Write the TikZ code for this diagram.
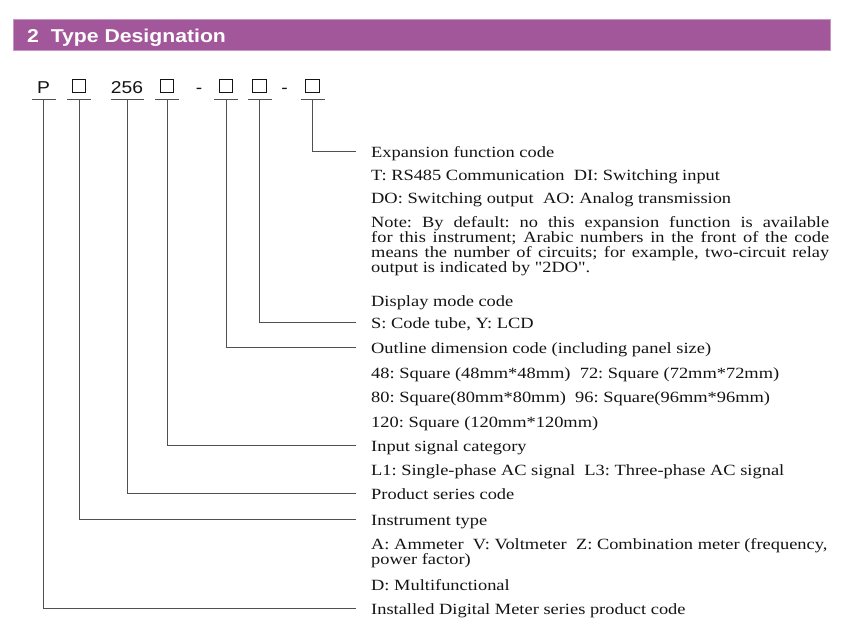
\documentclass[tikz,border=0pt]{standalone}
\usepackage{fontspec}
\setmainfont{Liberation Serif}[FakeStretch=1.18]
\newfontfamily\qfont{Liberation Serif}[FakeStretch=1.18]
\newfontfamily\codefont{Liberation Sans}[FakeStretch=1.12]
\newfontfamily\headfont{Liberation Sans}[FakeStretch=1.14]
\definecolor{headbar}{RGB}{163,87,155}
\definecolor{headedge}{RGB}{200,150,195}
\definecolor{linegray}{RGB}{80,80,80}
\definecolor{txt}{RGB}{20,20,20}
\frenchspacing
\begin{document}
\begin{tikzpicture}[x=1pt,y=-1pt,
  lbl/.style={anchor=base west,inner sep=0pt,text=txt,font=\fontsize{15.6pt}{15pt}\selectfont},
  codetxt/.style={anchor=base,inner sep=0pt,text=txt,font=\codefont\fontsize{17.2pt}{17pt}\selectfont},
  codebox/.style={anchor=south,draw=txt,line width=0.8pt,minimum width=13.5pt,minimum height=13pt,inner sep=0pt},
  conn/.style={draw=linegray,line width=0.9pt}]
\useasboundingbox (0,0) rectangle (865,641);
% header
\fill[headbar] (13,19.5) rectangle (830,50);
\draw[headedge,line width=0.4pt] (13,19.5) rectangle (830,50);
\node[anchor=base west,inner sep=0pt,text=white,font=\headfont\bfseries\fontsize{18.6pt}{18pt}\selectfont] (head) at (27,42) {2\ \ Type Designation};
% code row
\node[codetxt] (cP) at (43.5,93) {P};
\node[codebox] (cA) at (79,93) {};
\node[codetxt] (cS) at (127,93) {256};
\node[codebox] (cB) at (167,93) {};
\node[codetxt] (d1) at (199,93) {-};
\node[codebox] (cC) at (226,93) {};
\node[codebox] (cD) at (259.5,93) {};
\node[codetxt] (d2) at (284.5,93) {-};
\node[codebox] (cE) at (312.5,93) {};
\coordinate (ul) at (0,99);
% underlines
\foreach \n/\w in {cP/12,cA/12,cS/16.5,cB/12,cC/12,cD/12,cE/12}{
  \draw[conn] ([xshift=-\w pt]\n.south |- ul) -- ([xshift=\w pt]\n.south |- ul);
}
% texts
\node[lbl] (tExp) at (371,157.5) {Expansion function code};
\node[lbl] (tT) at (371,180.5) {T: RS485 Communication\ \ DI: Switching input};
\node[lbl] (tDO) at (371,203.5) {DO: Switching output\ \ AO: Analog transmission};
\node[lbl] (tN1) at (371,227.5) {\makebox[458pt][s]{Note: By default: no this expansion function is available}};
\node[lbl] (tN2) at (371,242.5) {\makebox[458pt][s]{for this instrument; Arabic numbers in the front of the code}};
\node[lbl] (tN3) at (371,257.5) {\makebox[458pt][s]{means the number of circuits; for example, two-circuit relay}};
\node[lbl] (tN4) at (371,272.5) {output is indicated by {\qfont "}2DO{\qfont "}.};
\node[lbl] (tDisp) at (371,306) {Display mode code};
\node[lbl] (tSY) at (371,328.5) {S: Code tube, Y: LCD};
\node[lbl] (tOut) at (371,353.5) {Outline dimension code (including panel size)};
\node[lbl] (t48) at (371,378) {48: Square (48mm*48mm)\ \ 72: Square (72mm*72mm)};
\node[lbl] (t80) at (371,402.5) {80: Square(80mm*80mm)\ \ 96: Square(96mm*96mm)};
\node[lbl] (t120) at (371,427) {120: Square (120mm*120mm)};
\node[lbl] (tIn) at (371,451) {Input signal category};
\node[lbl] (tL) at (371,475) {L1: Single-phase AC signal\ \ L3: Three-phase AC signal};
\node[lbl] (tProd) at (371,499) {Product series code};
\node[lbl] (tInst) at (371,525) {Instrument type};
\node[lbl] (tA1) at (371,549) {A: Ammeter\ \ V: Voltmeter\ \ Z: Combination meter (frequency,};
\node[lbl] (tA2) at (371,564) {power factor)};
\node[lbl] (tD) at (371,590) {D: Multifunctional};
\node[lbl] (tInstl) at (371,614) {Installed Digital Meter series product code};
% connectors
\draw[conn] (cE.south |- ul) |- ([shift={(-15,-6)}]tExp.base west);
\draw[conn] (cD.south |- ul) |- ([shift={(-15,-6)}]tSY.base west);
\draw[conn] (cC.south |- ul) |- ([shift={(-15,-6)}]tOut.base west);
\draw[conn] (cB.south |- ul) |- ([shift={(-15,-6)}]tIn.base west);
\draw[conn] (cS.south |- ul) |- ([shift={(-15,-6)}]tProd.base west);
\draw[conn] (cA.south |- ul) |- ([shift={(-15,-6)}]tInst.base west);
\draw[conn] (cP.south |- ul) |- ([shift={(-15,-6)}]tInstl.base west);
\end{tikzpicture}
\end{document}
